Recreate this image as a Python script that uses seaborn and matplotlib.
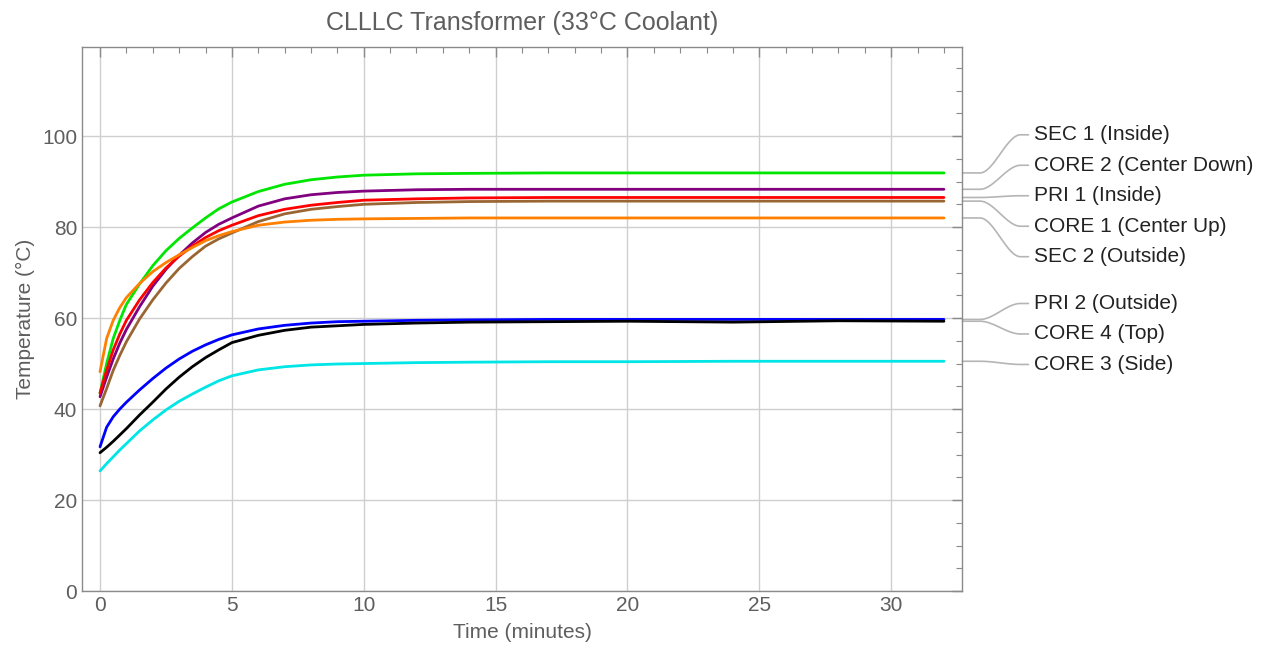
import numpy as np
import pandas as pd
import seaborn as sns
import matplotlib.pyplot as plt
from matplotlib.ticker import MultipleLocator
from matplotlib.transforms import blended_transform_factory

# time axis (minutes) and sensor readings (deg C)
time_min = [0, 0.25, 0.5, 0.75, 1, 1.5, 2, 2.5, 3, 3.5, 4, 4.5, 5, 6, 7, 8, 9, 10,
            12, 14, 17, 20, 24, 28, 32]

sec1_inside = [43.5, 50.0, 55.5, 59.5, 63.0, 67.5, 71.5, 74.8, 77.5, 79.8, 82.0, 84.0, 85.5,
               87.8, 89.4, 90.4, 91.0, 91.4, 91.7, 91.8, 91.9, 91.9, 91.9, 91.9, 91.9]
core2_center_down = [42.7, 47.0, 51.0, 54.5, 57.5, 62.5, 67.0, 70.7, 73.8, 76.5, 78.8, 80.6, 82.0,
                     84.6, 86.2, 87.1, 87.6, 87.9, 88.2, 88.3, 88.3, 88.3, 88.3, 88.3, 88.3]
pri1_inside = [43.5, 48.5, 53.0, 56.5, 59.5, 64.0, 67.8, 71.0, 73.6, 75.8, 77.7, 79.2, 80.4,
               82.5, 83.9, 84.8, 85.4, 85.9, 86.2, 86.4, 86.5, 86.5, 86.5, 86.5, 86.5]
core1_center_up = [40.7, 44.5, 48.5, 51.8, 54.8, 59.8, 64.0, 67.7, 70.9, 73.5, 75.8, 77.4, 78.7,
                   81.2, 82.9, 83.9, 84.5, 85.0, 85.4, 85.6, 85.7, 85.7, 85.7, 85.7, 85.7]
sec2_outside = [48.2, 55.5, 59.5, 62.3, 64.5, 67.6, 70.2, 72.2, 73.9, 75.5, 77.0, 78.1, 79.0,
                80.4, 81.1, 81.5, 81.7, 81.8, 81.9, 82.0, 82.0, 82.0, 82.0, 82.0, 82.0]
pri2_outside = [31.7, 36.0, 38.3, 40.0, 41.5, 44.2, 46.7, 49.0, 51.0, 52.7, 54.1, 55.3, 56.3,
                57.6, 58.4, 58.9, 59.2, 59.3, 59.5, 59.6, 59.7, 59.7, 59.7, 59.7, 59.7]
core4_top = [30.4, 31.6, 32.9, 34.3, 35.7, 38.7, 41.5, 44.4, 47.0, 49.3, 51.3, 53.0, 54.6,
             56.2, 57.3, 58.0, 58.3, 58.6, 58.9, 59.1, 59.2, 59.3, 59.1, 59.4, 59.3]
core3_side = [26.4, 28.0, 29.5, 31.0, 32.4, 35.2, 37.6, 39.8, 41.7, 43.3, 44.8, 46.2, 47.3,
              48.6, 49.3, 49.7, 49.9, 50.0, 50.2, 50.3, 50.4, 50.4, 50.5, 50.5, 50.5]

labels = ['SEC 1 (Inside)', 'CORE 2 (Center Down)', 'PRI 1 (Inside)', 'CORE 1 (Center Up)',
          'SEC 2 (Outside)', 'PRI 2 (Outside)', 'CORE 4 (Top)', 'CORE 3 (Side)']
series = [sec1_inside, core2_center_down, pri1_inside, core1_center_up,
          sec2_outside, pri2_outside, core4_top, core3_side]
colors = ['#00e600', '#800080', '#ff0000', '#996633', '#ff8000', '#0000ff', '#000000', '#00e5e5']

df = pd.concat([pd.DataFrame({'time': time_min, 'temp': s, 'sensor': lab})
                for lab, s in zip(labels, series)], ignore_index=True)

sns.set_style('white')
plt.rcParams['font.family'] = ['Liberation Sans', 'DejaVu Sans']
txt = '#5e5e5e'
frame = '#8a8a8a'

fig = plt.figure(figsize=(12.63, 6.54), dpi=100)
ax = fig.add_axes([0.065, 0.0963, 0.697, 0.832])

sns.lineplot(data=df, x='time', y='temp', hue='sensor', palette=dict(zip(labels, colors)),
             linewidth=2.0, legend=False, ax=ax, zorder=3)

ax.set_xlim(-0.68, 32.7)
ax.set_ylim(0, 119.6)
ax.xaxis.set_major_locator(MultipleLocator(5))
ax.xaxis.set_minor_locator(MultipleLocator(1))
ax.yaxis.set_major_locator(MultipleLocator(20))
ax.yaxis.set_minor_locator(MultipleLocator(5))
ax.grid(True, which='major', color='#cfcfcf', linewidth=1.0, zorder=0)
ax.tick_params(which='both', direction='in', top=True, right=True, color=frame,
               labelcolor=txt, labelsize=15)
ax.tick_params(which='major', length=7, width=1)
ax.tick_params(which='minor', length=4, width=0.8)
for sp in ax.spines.values():
    sp.set_color(frame)
    sp.set_linewidth(1.0)

ax.set_title('CLLLC Transformer (33°C Coolant)', color=txt, fontsize=18, pad=12)
ax.set_xlabel('Time (minutes)', color=txt, fontsize=15, labelpad=6)
ax.set_ylabel('Temperature (°C)', color=txt, fontsize=15, labelpad=5)

# callout labels: spread overlapping labels into evenly spaced clusters
finals = [s[-1] for s in series]
order = list(np.argsort(finals)[::-1])
gap = 6.7
clusters = [[i] for i in order]


def positions(cl):
    c = np.mean([finals[i] for i in cl])
    n = len(cl)
    return [c + gap * ((n - 1) / 2 - k) for k in range(n)]


merged = True
while merged:
    merged = False
    for k in range(len(clusters) - 1):
        if positions(clusters[k])[-1] - positions(clusters[k + 1])[0] < gap:
            clusters[k] = clusters[k] + clusters[k + 1]
            del clusters[k + 1]
            merged = True
            break

label_y = {}
for cl in clusters:
    for i, y in zip(cl, positions(cl)):
        label_y[i] = y

trans = blended_transform_factory(ax.transAxes, ax.transData)
u = np.linspace(0, 1, 40)
smooth = 3 * u ** 2 - 2 * u ** 3
for i, lab in enumerate(labels):
    y0, y1 = finals[i], label_y[i]
    xs = np.concatenate([[1.0], 1.02 + 0.046 * u, [1.075]])
    ys = np.concatenate([[y0], y0 + (y1 - y0) * smooth, [y1]])
    ax.plot(xs, ys, transform=trans, color='#b5b5b5', linewidth=1.2, clip_on=False)
    ax.text(1.081, y1, lab, transform=trans, va='center', ha='left', fontsize=15, color='#222222')

fig.savefig('out.png', dpi=100)
